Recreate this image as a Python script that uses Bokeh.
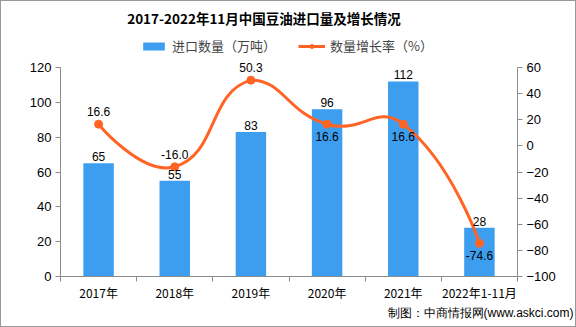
import math
from bokeh.plotting import figure
from bokeh.models import (Range1d, LinearAxis, FixedTicker, ColumnDataSource, LabelSet,
                          Label, Legend, LegendItem, Title)
from bokeh.core.properties import value
from bokeh.embed import file_html
from bokeh.resources import INLINE

# ---------------- data ----------------
categories = ["2017年", "2018年", "2019年", "2020年", "2021年", "2022年1-11月"]
import_volume = [65, 55, 83, 96, 112, 28]             # 万吨
growth_rate = [16.6, -16.0, 50.3, 16.6, 16.6, -74.6]  # %
left_ticks = [0, 20, 40, 60, 80, 100, 120]
right_ticks = [-100, -80, -60, -40, -20, 0, 20, 40, 60]
rate_label_side = ["top", "top", "top", "bottom", "bottom", "bottom"]

BAR_COLOR = "#3d9ef0"
LINE_COLOR = "#ff6424"
AXIS_COLOR = "#8c8c8c"
CJK = "Noto Sans CJK SC"
NUM = "Liberation Sans"

W, H = 576, 327
L, R, B = 59, 60, 52
AXIS_TOP = 66                     # canvas y of the top tick (120 / 60)
frame_h = H - B                   # frame spans from canvas top to the x axis
axis_h = frame_h - AXIS_TOP
plot_w = W - L - R

lmin, lmax = left_ticks[0], left_ticks[-1]
rmin, rmax = right_ticks[0], right_ticks[-1]
l_top = lmin + (lmax - lmin) * frame_h / axis_h
r_top = rmin + (rmax - rmin) * frame_h / axis_h

idx = list(range(len(categories)))

p = figure(width=W, height=H, output_backend="svg", toolbar_location=None,
           x_range=Range1d(-0.5, len(categories) - 0.5), y_range=Range1d(lmin, l_top),
           min_border_left=L, min_border_right=R, min_border_top=0, min_border_bottom=B)
p.extra_y_ranges = {"rate": Range1d(rmin, r_top)}
p.outline_line_color = None
p.xgrid.visible = False
p.ygrid.visible = False
p.background_fill_color = "white"
p.border_fill_color = "white"

# ---------- axes ----------
xa = p.xaxis[0]
xa.ticker = FixedTicker(ticks=idx, minor_ticks=[i - 0.5 for i in range(len(categories) + 1)])
xa.major_label_overrides = {i: c for i, c in enumerate(categories)}
xa.major_tick_out = 0
xa.major_tick_in = 0
xa.minor_tick_out = 5
xa.minor_tick_in = 0
xa.minor_tick_line_color = AXIS_COLOR
xa.axis_line_color = AXIS_COLOR
xa.major_label_text_font = CJK
xa.major_label_text_font_size = "12px"
xa.major_label_text_color = "black"
xa.major_label_standoff = 2

ya = p.yaxis[0]
ya.ticker = FixedTicker(ticks=left_ticks)
ya.bounds = (lmin, lmax)
ya.minor_tick_line_color = None
ya.major_tick_out = 5
ya.major_tick_in = 0
ya.axis_line_color = AXIS_COLOR
ya.major_tick_line_color = AXIS_COLOR
ya.major_label_text_font = NUM
ya.major_label_text_font_size = "13px"
ya.major_label_text_color = "black"
ya.major_label_standoff = 4

ra = LinearAxis(y_range_name="rate", ticker=FixedTicker(ticks=right_ticks), bounds=(rmin, rmax))
ra.minor_tick_line_color = None
ra.major_tick_out = 5
ra.major_tick_in = 0
ra.axis_line_color = AXIS_COLOR
ra.major_tick_line_color = AXIS_COLOR
ra.major_label_text_font = NUM
ra.major_label_text_font_size = "13px"
ra.major_label_text_color = "black"
ra.major_label_standoff = 4
p.add_layout(ra, "right")

# ---------- bars ----------
bar_src = ColumnDataSource(dict(x=idx, top=import_volume, lab=[str(v) for v in import_volume]))
bars = p.vbar(x="x", top="top", width=0.4, source=bar_src, fill_color=BAR_COLOR, line_color=None)
p.add_layout(LabelSet(x="x", y="top", text="lab", source=bar_src, text_align="center",
                      text_baseline="bottom", y_offset=2, text_font=value(NUM),
                      text_font_size=value("12px"), text_color="black"))

# ---------- smooth line (ECharts-like bezier smoothing, computed from the data) ----------
sx = plot_w / len(categories)
sy = axis_h / float(rmax - rmin)
pts = [(i * sx, v * sy) for i, v in zip(idx, growth_rate)]
ymin = min(q[1] for q in pts); ymax = max(q[1] for q in pts)
xmin = min(q[0] for q in pts); xmax = max(q[0] for q in pts)
smooth = 0.5
cps = []
for i, pt in enumerate(pts):
    if i == 0 or i == len(pts) - 1:
        cps.append(pt)
        continue
    pr, nx = pts[i - 1], pts[i + 1]
    vx, vy = (nx[0] - pr[0]) * smooth, (nx[1] - pr[1]) * smooth
    d0 = math.hypot(pt[0] - pr[0], pt[1] - pr[1])
    d1 = math.hypot(pt[0] - nx[0], pt[1] - nx[1])
    s = d0 + d1
    d0, d1 = d0 / s, d1 / s
    c0 = (pt[0] - vx * d0, pt[1] - vy * d0)
    c1 = (pt[0] + vx * d1, pt[1] + vy * d1)
    for c in (c0, c1):
        cps.append((min(max(c[0], xmin), xmax), min(max(c[1], ymin), ymax)))
bz = dict(x0=[], y0=[], x1=[], y1=[], cx0=[], cy0=[], cx1=[], cy1=[])
for i in range(len(pts) - 1):
    a, b = pts[i], pts[i + 1]
    c0, c1 = cps[2 * i], cps[2 * i + 1]
    bz["x0"].append(a[0] / sx); bz["y0"].append(a[1] / sy)
    bz["x1"].append(b[0] / sx); bz["y1"].append(b[1] / sy)
    bz["cx0"].append(c0[0] / sx); bz["cy0"].append(c0[1] / sy)
    bz["cx1"].append(c1[0] / sx); bz["cy1"].append(c1[1] / sy)
p.bezier(x0="x0", y0="y0", x1="x1", y1="y1", cx0="cx0", cy0="cy0", cx1="cx1", cy1="cy1",
         source=ColumnDataSource(bz), line_color=LINE_COLOR, line_width=3, y_range_name="rate")

rate_src = ColumnDataSource(dict(x=idx, y=growth_rate))
pts_r = p.scatter(x="x", y="y", source=rate_src, size=8, fill_color=LINE_COLOR,
                  line_color=LINE_COLOR, y_range_name="rate")


def side_src(side):
    sel = [i for i in idx if rate_label_side[i] == side]
    return ColumnDataSource(dict(x=sel, y=[growth_rate[i] for i in sel],
                                 lab=["%.1f" % growth_rate[i] for i in sel]))


p.add_layout(LabelSet(x="x", y="y", text="lab", source=side_src("top"), y_range_name="rate",
                      text_align="center", text_baseline="bottom", y_offset=8,
                      text_font=value(NUM), text_font_size=value("12px"), text_color="black"))
p.add_layout(LabelSet(x="x", y="y", text="lab", source=side_src("bottom"), y_range_name="rate",
                      text_align="center", text_baseline="top", y_offset=-8,
                      text_font=value(NUM), text_font_size=value("12px"), text_color="black"))

# ---------- legend (inside the tall frame, above the axis top) ----------
leg_line = p.line(x=[None], y=[None], line_color=LINE_COLOR, line_width=3)
legend = Legend(items=[LegendItem(label="进口数量（万吨）", renderers=[bars]),
                       LegendItem(label="数量增长率（%）", renderers=[leg_line, pts_r])],
                orientation="horizontal", location=(80, frame_h - 54), glyph_width=27,
                glyph_height=10, label_text_font=CJK, label_text_font_size="13px",
                label_standoff=5, spacing=22, padding=0, margin=0, border_line_color=None,
                background_fill_alpha=0)
p.add_layout(legend, "center")

# ---------- title ----------
p.add_layout(Label(x=(118 + 407) / 2 - L, y=frame_h - 16, x_units="screen", y_units="screen",
                   text="2017-2022年11月中国豆油进口量及增长情况", text_align="center",
                   text_baseline="middle", text_font=CJK, text_font_style="bold",
                   text_font_size="13.5px", text_color="black"))

# ---------- footer ----------
foot = Title(text="制图：中商情报网(www.askci.com)", align="left", offset=327,
             text_font=NUM, text_font_size="12px", text_font_style="normal",
             text_color="black", standoff=0)
p.add_layout(foot, "below")

p.styles = {"border": "1px solid #999999", "box-sizing": "border-box"}

open("out.html", "w").write(file_html(p, INLINE))
